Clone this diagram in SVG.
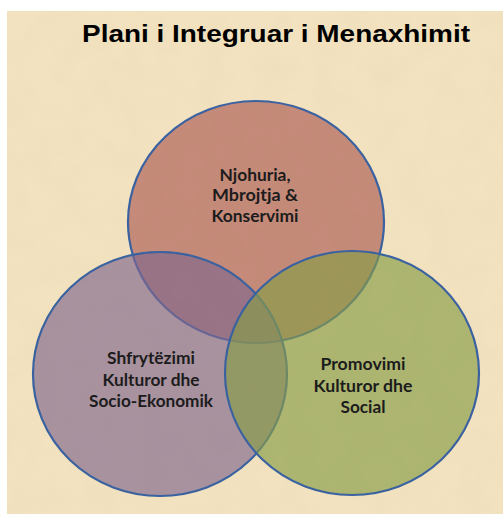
<svg xmlns="http://www.w3.org/2000/svg" width="503" height="514" viewBox="0 0 503 514">
  <defs>
    <filter id="paper" x="0" y="0" width="100%" height="100%">
      <feTurbulence type="fractalNoise" baseFrequency="0.035" numOctaves="3" seed="4" result="n"/>
      <feColorMatrix in="n" type="matrix" values="0 0 0 0 0.80  0 0 0 0 0.68  0 0 0 0 0.46  0 0 0 0.9 -0.3" result="c"/>
      <feComposite in="c" in2="SourceGraphic" operator="in"/>
    </filter>
    <style>
      .circle { stroke: #3a62a0; stroke-width: 2.2; fill-opacity: 0.65; }
      .lbl { font-family: Lato, "Liberation Sans", Arial, sans-serif; font-weight: bold; font-size: 17.5px; fill: #1c1c1c; text-anchor: middle; }
      .title { font-family: "Liberation Sans", Arial, sans-serif; font-weight: bold; font-size: 24px; fill: #000000; }
    </style>
  </defs>
  <rect x="0" y="0" width="503" height="514" fill="#ffffff"/>
  <rect x="7" y="11" width="496" height="503" fill="#f2e2bf"/>
  <rect x="7" y="11" width="496" height="503" fill="#ffffff" filter="url(#paper)" opacity="0.45"/>
  <text class="title" x="82" y="42" textLength="388" lengthAdjust="spacingAndGlyphs">Plani i Integruar  i Menaxhimit</text>
  <g id="node-knowledge">
    <ellipse class="circle" cx="256" cy="222" rx="128" ry="121" fill="#ac5b53"/>
  </g>
  <g id="node-exploitation">
    <ellipse class="circle" cx="160" cy="374" rx="127" ry="122" fill="#81678d"/>
  </g>
  <g id="node-promotion">
    <ellipse class="circle" cx="352" cy="373" rx="127" ry="122" fill="#879c46"/>
  </g>
  <g id="labels">
    <text class="lbl" x="255" y="181" textLength="71" lengthAdjust="spacingAndGlyphs">Njohuria,</text>
    <text class="lbl" x="255" y="201" textLength="86" lengthAdjust="spacingAndGlyphs">Mbrojtja &amp;</text>
    <text class="lbl" x="255" y="222" textLength="87" lengthAdjust="spacingAndGlyphs">Konservimi</text>
    <text class="lbl" x="151" y="364" textLength="88" lengthAdjust="spacingAndGlyphs">Shfrytëzimi</text>
    <text class="lbl" x="151" y="386" textLength="97" lengthAdjust="spacingAndGlyphs">Kulturor dhe</text>
    <text class="lbl" x="151" y="407" textLength="124" lengthAdjust="spacingAndGlyphs">Socio-Ekonomik</text>
    <text class="lbl" x="363" y="370" textLength="85" lengthAdjust="spacingAndGlyphs">Promovimi</text>
    <text class="lbl" x="363" y="392" textLength="99" lengthAdjust="spacingAndGlyphs">Kulturor dhe</text>
    <text class="lbl" x="363" y="413" textLength="45" lengthAdjust="spacingAndGlyphs">Social</text>
  </g>
  <g id="connectors"></g>
</svg>
